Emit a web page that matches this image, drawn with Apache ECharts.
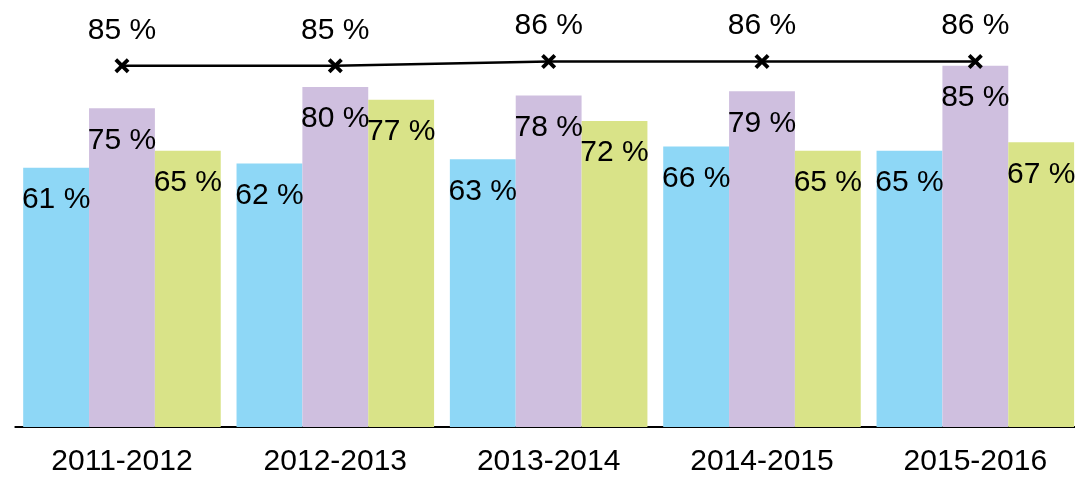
<!DOCTYPE html>
<html><head><meta charset="utf-8">
<script src="https://cdn.jsdelivr.net/npm/echarts@6/dist/echarts.min.js"></script>
<style>html,body{margin:0;padding:0;background:#fff;overflow:hidden;width:1075px;height:480px}#c{width:1082px;height:480px}</style>
</head><body><div id="c"></div>
<script>
const categories = ['2011-2012','2012-2013','2013-2014','2014-2015','2015-2016'];
const seriesBlue = [61,62,63,66,65];
const seriesPurple = [75,80,78,79,85];
const seriesGreen = [65,77,72,65,67];
const seriesLine = [85,85,86,86,86];

const font = 'Liberation Sans, Arial, sans-serif';
const barLabel = {show:true, position:'insideTop', distance:17, formatter:'{c} %', color:'#000', fontSize:30, fontFamily:font};
function bar(data, color){
  return {type:'bar', data:data, barGap:'0%', barCategoryGap:'7.4%', itemStyle:{color:color}, label:barLabel, z:2};
}
const chart = echarts.init(document.getElementById('c'));
chart.setOption({
  animation:false,
  grid:{left:15.3, right:0, top:2, bottom:53},
  xAxis:{type:'category', data:categories,
    axisLine:{lineStyle:{color:'#000', width:2}},
    axisTick:{show:false},
    axisLabel:{color:'#000', fontSize:30, fontFamily:font, margin:20}},
  yAxis:{type:'value', min:0, max:100, show:false, splitLine:{show:false}},
  series:[
    bar(seriesBlue,'#8ed7f6'),
    bar(seriesPurple,'#cfbfdf'),
    bar(seriesGreen,'#d9e388'),
    {type:'line', data:seriesLine, z:5,
     symbol:'path://M2.5,0 L7,4.5 L11.5,0 L14,2.5 L9.5,7 L14,11.5 L11.5,14 L7,9.5 L2.5,14 L0,11.5 L4.5,7 L0,2.5 Z',
     symbolSize:15,
     lineStyle:{color:'#000', width:2.5},
     itemStyle:{color:'#000'},
     label:{show:true, position:'top', distance:13, formatter:'{c} %', color:'#000', fontSize:30, fontFamily:font}}
  ]
});
</script></body></html>
